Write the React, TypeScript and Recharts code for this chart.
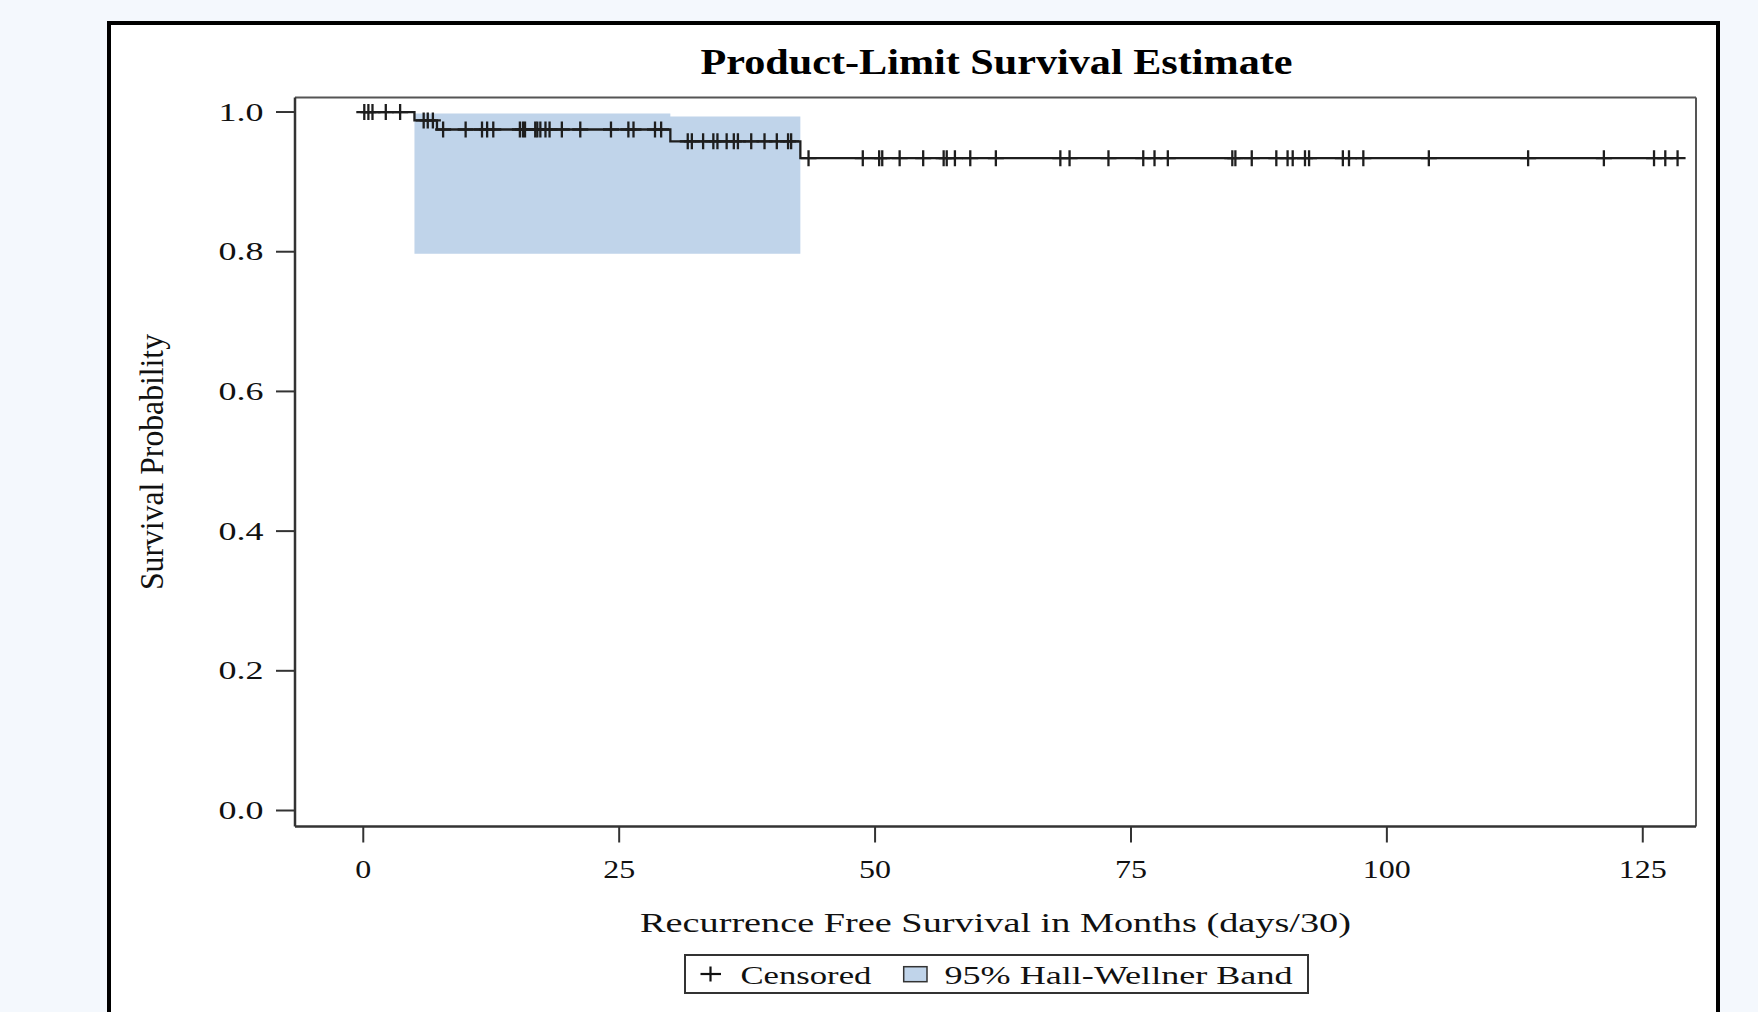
import React from 'react';
import { ComposedChart, Line, Area, Scatter, XAxis, YAxis, Legend, Label, ReferenceLine } from 'recharts';

const FONT = '"Liberation Serif", "Times New Roman", Times, serif';
const BAND = '#c0d4ea';
const INK = '#1e1e1e';
const FRAME = '#555';

// Product-limit estimate: event times (months) and survival after each step
const stepTimes = [0, 5.0, 7.2, 30.0, 42.7];
const stepSurvival = [1.0, 0.988, 0.975, 0.958, 0.934];
const lastFollowUp = 128.4;

// 95% Hall-Wellner band
const bandTimes = [5.0, 30.0, 42.7];
const bandUpper = [0.998, 0.9935, 0.9935];
const bandLower = [0.797, 0.797, 0.797];

// censored observations (months)
const censorTimes = [
  0.1, 0.5, 0.9, 2.2, 3.6,
  5.9, 6.3, 6.8,
  7.8, 10.0, 11.6, 12.1, 12.7, 15.3, 15.6, 15.8, 16.8, 17.0, 17.3, 17.8, 18.2, 19.4, 21.2, 24.2, 25.9, 26.4, 28.5, 29.1,
  31.7, 32.1, 33.2, 34.2, 34.6, 35.5, 36.2, 36.6, 37.9, 39.2, 40.4, 41.5, 41.8,
  43.5, 48.8, 50.4, 50.7, 52.4, 54.7, 56.7, 57.0, 57.8, 59.3, 61.8, 68.1, 69.0, 72.8, 76.2, 77.3, 78.6,
  84.9, 85.2, 86.8, 89.2, 90.3, 90.8, 92.0, 92.4, 95.7, 96.3, 97.7, 104.1, 113.8, 121.2, 126.1, 127.2, 128.4,
];

const xTicks = [0, 25, 50, 75, 100, 125];
const yTicks = [0, 0.2, 0.4, 0.6, 0.8, 1.0];
const xDomain = [-6.67, 130.2];
const yDomain = [-0.0229, 1.0208];

const survivalAt = (t: number) => {
  let s = stepSurvival[0];
  stepTimes.forEach((st, i) => {
    if (st <= t) s = stepSurvival[i];
  });
  return s;
};

const curveData = stepTimes
  .map((t, i) => ({ t, s: stepSurvival[i] }))
  .concat([{ t: lastFollowUp, s: stepSurvival[stepSurvival.length - 1] }]);
const bandData = bandTimes.map((t, i) => ({ t, band: [bandLower[i], bandUpper[i]] }));
const censorData = censorTimes.map((t) => ({ t, s: survivalAt(t) }));

const CensorMark = (props: any) => {
  const { cx, cy } = props;
  if (cx == null || cy == null) return null;
  return (
    <g stroke={INK} strokeWidth={2.3}>
      <line x1={cx - 8} x2={cx + 8} y1={cy} y2={cy} />
      <line x1={cx} x2={cx} y1={cy - 8} y2={cy + 8} />
    </g>
  );
};

const XTick = (props: any) => {
  const { x, y, payload } = props;
  const label = String(payload.value);
  return (
    <text x={x} y={y + 33.8} textAnchor="middle" fontFamily={FONT} fontSize={25} fill="#111"
      textLength={16 * label.length} lengthAdjust="spacingAndGlyphs">
      {label}
    </text>
  );
};

const YTick = (props: any) => {
  const { x, y, payload } = props;
  return (
    <text x={x - 10.5} y={y + 8.5} textAnchor="end" fontFamily={FONT} fontSize={25} fill="#111"
      textLength={45} lengthAdjust="spacingAndGlyphs">
      {Number(payload.value).toFixed(1)}
    </text>
  );
};

const XTitle = (props: any) => {
  const vb = props.viewBox;
  return (
    <text x={vb.x + vb.width / 2} y={vb.y + 105.5} textAnchor="middle" fontFamily={FONT} fontSize={28}
      fill="#111" textLength={711} lengthAdjust="spacingAndGlyphs">
      Recurrence Free Survival in Months (days/30)
    </text>
  );
};

const YTitle = (props: any) => {
  const vb = props.viewBox;
  const cy = vb.y + vb.height / 2;
  return (
    <text transform={`translate(163, ${cy}) rotate(-90) scale(1, 1.22)`} x={0} y={0} textAnchor="middle"
      fontFamily={FONT} fontSize={28} fill="#111" textLength={256} lengthAdjust="spacingAndGlyphs">
      Survival Probability
    </text>
  );
};

const LegendBox = () => (
  <svg width={625} height={40} style={{ display: 'block' }}>
    <rect x={1} y={1} width={623} height={38} fill="#fff" stroke="#333" strokeWidth={2} />
    <g stroke="#111" strokeWidth={2.2}>
      <line x1={16.5} x2={37} y1={20} y2={20} />
      <line x1={26.5} x2={26.5} y1={12.5} y2={27.5} />
    </g>
    <text x={56.4} y={30} fontFamily={FONT} fontSize={26} fill="#111" textLength={131} lengthAdjust="spacingAndGlyphs">
      Censored
    </text>
    <rect x={219.7} y={12.7} width={23.3} height={15} fill={BAND} stroke="#333" strokeWidth={1.5} />
    <text x={260.5} y={30} fontFamily={FONT} fontSize={26} fill="#111" textLength={348} lengthAdjust="spacingAndGlyphs">
      95% Hall-Wellner Band
    </text>
  </svg>
);

export default function App() {
  return (
    <div style={{ position: 'absolute', left: 0, top: 0, width: 1758, height: 1012, overflow: 'hidden', background: '#f4f8fd' }}>
      <div style={{ position: 'absolute', left: 107, top: 21, width: 1613, height: 1100, boxSizing: 'border-box',
        border: '4px solid #000', background: '#fff' }} />
      <svg style={{ position: 'absolute', left: 0, top: 0 }} width={1758} height={100}>
        <text x={996.5} y={73.5} textAnchor="middle" fontFamily={FONT} fontWeight="bold" fontSize={35} fill="#000"
          textLength={592} lengthAdjust="spacingAndGlyphs">
          Product-Limit Survival Estimate
        </text>
      </svg>
      <div style={{ position: 'absolute', left: 0, top: 0 }}>
        <ComposedChart width={1758} height={1012} margin={{ top: 97.5, right: 62, bottom: 125.5, left: 0 }}>
          <XAxis dataKey="t" type="number" domain={xDomain} ticks={xTicks} allowDataOverflow height={60}
            tickSize={16} tickMargin={2} tick={<XTick />} axisLine={{ stroke: '#333', strokeWidth: 2.5 }}
            tickLine={{ stroke: '#333', strokeWidth: 2 }}>
            <Label content={<XTitle />} />
          </XAxis>
          <YAxis type="number" domain={yDomain} ticks={yTicks} allowDataOverflow width={295}
            tickSize={19} tickMargin={2} tick={<YTick />} axisLine={{ stroke: '#333', strokeWidth: 2.5 }}
            tickLine={{ stroke: '#333', strokeWidth: 2 }}>
            <Label content={<YTitle />} />
          </YAxis>
          <Area data={bandData} dataKey="band" type="stepAfter" fill={BAND} fillOpacity={1} stroke="none"
            isAnimationActive={false} />
          <ReferenceLine y={yDomain[1]} stroke={FRAME} strokeWidth={2} />
          <ReferenceLine x={xDomain[1]} stroke={FRAME} strokeWidth={2} />
          <Line data={curveData} dataKey="s" type="stepAfter" stroke={INK} strokeWidth={2.3} dot={false}
            isAnimationActive={false} />
          <Scatter data={censorData} dataKey="s" shape={<CensorMark />} isAnimationActive={false} />
          <Legend layout="horizontal" verticalAlign="middle" align="center" content={<LegendBox />}
            wrapperStyle={{ position: 'absolute', left: 684, top: 954, width: 625, height: 40 }} />
        </ComposedChart>
      </div>
    </div>
  );
}
